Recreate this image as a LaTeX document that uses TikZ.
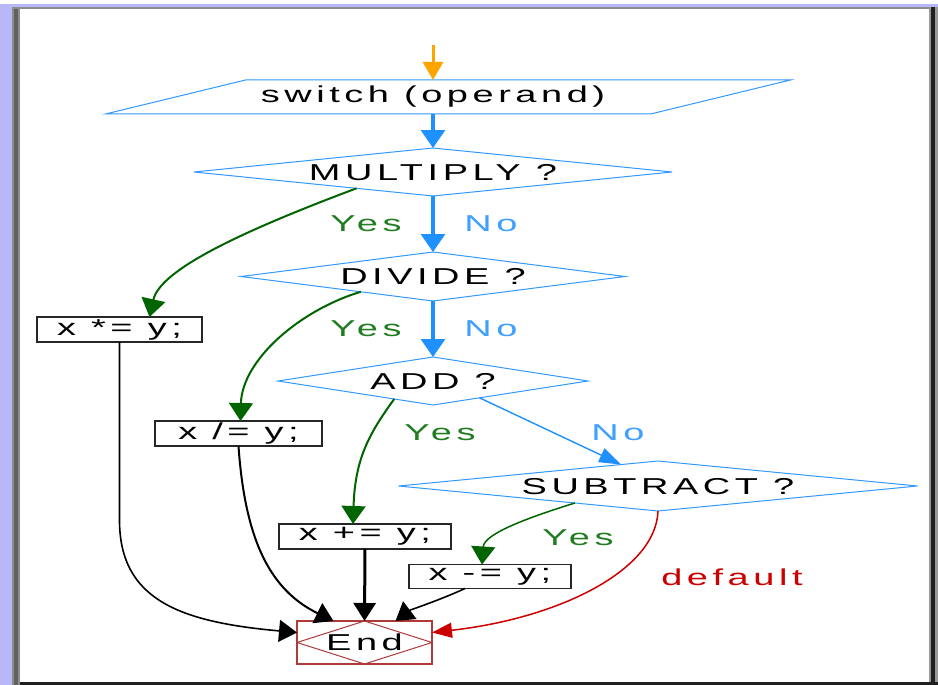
\documentclass[tikz,border=0pt]{standalone}
\usepackage{fontspec}
\usepackage{graphicx}
\setmainfont{Liberation Sans}
\newfontfamily\chartfont{Liberation Sans}[LetterSpace=12]
\usetikzlibrary{shapes.geometric,arrows.meta,calc}

\definecolor{flowblue}{RGB}{30,144,255}
\definecolor{edgeblue}{RGB}{51,153,255}
\definecolor{yesgreen}{RGB}{0,100,0}
\definecolor{yestext}{RGB}{34,125,34}
\definecolor{notext}{RGB}{64,160,255}
\definecolor{defred}{RGB}{204,0,0}
\definecolor{endred}{RGB}{176,58,58}
\definecolor{frameband}{RGB}{184,184,248}
\definecolor{startorange}{RGB}{255,165,0}

% wide, tracked sans text
\newcommand\wtxt[1]{\scalebox{1.65}[1]{\chartfont\fontsize{23}{25}\selectfont #1}}
% text of zero size, centred on the node
\newcommand\ctr[1]{\makebox[0pt]{\smash{\raisebox{-8.2pt}{\wtxt{#1}}}}}

\begin{document}
\begin{tikzpicture}[x=1pt,y=-1pt,
  txt/.style={inner sep=0pt, outer sep=0pt},
  decision/.style={diamond, draw=edgeblue, line width=1pt, inner sep=0pt, outer sep=0pt},
  stmt/.style={rectangle, draw=black!85, line width=1.8pt, inner sep=0pt, outer sep=0pt, fill=white},
  startflow/.style={draw=startorange, line width=3pt, -{Triangle[width=20pt,length=18pt]}},
  mainflow/.style={draw=flowblue, line width=3.2pt, -{Triangle[width=24pt,length=18pt]}},
  sideflow/.style={draw=flowblue, line width=1.4pt, -{Triangle[width=15pt,length=22pt]}},
  yesflow/.style={draw=yesgreen, line width=2pt, -{Triangle[width=24pt,length=18pt]}},
  toend/.style={draw=black, line width=2pt, -{Triangle[width=22pt,length=18pt]}},
  defflow/.style={draw=defred, line width=1.5pt, -{Triangle[width=15pt,length=20pt]}},
  yeslbl/.style={txt, text=yestext},
  nolbl/.style={txt, text=notext},
]
\useasboundingbox (0,0) rectangle (938,685);

% window frame
\fill[white] (0,0) rectangle (938,685);
\fill[frameband] (0,4) rectangle (938,7);
\fill[frameband] (0,4) rectangle (12,685);
\fill[black!45] (12,7) rectangle (20,685);
\fill[black!62] (14,7) rectangle (18,685);
\fill[black!45] (12,7) rectangle (930,9);
\fill[black!40] (929,7) rectangle (938,685);
\fill[black!88] (931,7) rectangle (935,685);
\fill[black!88] (20,682) rectangle (938,685);

% start and switch
\coordinate (start) at (433,45);
\node[txt, minimum width=655, minimum height=34] (sw) at (433,97) {\wtxt{switch (operand)}};
\draw[edgeblue, line width=1pt] ($(sw.north west)+(140,0)$) -- ($(sw.north east)+(30,0)$)
  -- ($(sw.south east)+(-110,0)$) -- (sw.south west) -- cycle;

% decisions
\node[decision, minimum width=478, minimum height=48] (mul) at (433,172) {\ctr{MULTIPLY ?}};
\node[decision, minimum width=384, minimum height=49] (div) at (433,276.5) {\ctr{DIVIDE ?}};
\node[decision, minimum width=310, minimum height=48] (add) at (433,381) {\ctr{ADD ?}};
\node[decision, minimum width=519, minimum height=50] (sub) at (658,486) {\ctr{SUBTRACT ?}};

% statements
\node[stmt, minimum width=165, minimum height=25] (b1) at (119.5,329.5) {\wtxt{x *= y;}};
\node[stmt, minimum width=167, minimum height=25] (b2) at (238.5,433.5) {\wtxt{x /= y;}};
\node[stmt, minimum width=172, minimum height=25] (b3) at (365,536.5) {\wtxt{x += y;}};
\node[stmt, minimum width=162, minimum height=24] (b4) at (490,576.5) {\wtxt{x -= y;}};

% end
\node[rectangle, draw=endred, line width=1.6pt, minimum width=135, minimum height=43,
  inner sep=0pt, outer sep=0pt,
  path picture={\draw[endred, line width=1pt]
    (path picture bounding box.north) -- (path picture bounding box.east)
    -- (path picture bounding box.south) -- (path picture bounding box.west) -- cycle;}]
  (end) at (364.5,642.5) {\wtxt{End}};

% main column
\draw[startflow] (start) -- (sw.north);
\draw[mainflow] (sw.south) -- (mul.north);
\draw[mainflow] (mul.south) -- (div.north);
\draw[mainflow] (div.south) -- (add.north);
\draw[sideflow] ($(add.south)!0.3!(add.east)$) -- ($(sub.north)!0.142!(sub.west)$);

% yes branches
\draw[yesflow] ($(mul.south)!0.32!(mul.west)$) .. controls (240,232) and (160,270) .. ([xshift=30pt]b1.north);
\draw[yesflow] ($(div.south)!0.376!(div.west)$) .. controls (300,310) and (242,360) .. ([xshift=2pt]b2.north);
\draw[yesflow] ($(add.south)!0.25!(add.west)$) .. controls (368,435) and (355,460) .. ([xshift=-12pt]b3.north);
\draw[yesflow, line width=1.5pt] ($(sub.south)!0.32!(sub.west)$) .. controls (520,520) and (484,535) .. ([xshift=-8pt]b4.north);

% default
\draw[defflow] (sub.south) .. controls (656,570) and (560,618) .. ([yshift=10pt]end.east);

% into end
\draw[toend, line width=1.6pt] (b1.south) -- (119.5,520) .. controls (119.5,600) and (180,622) .. ([yshift=10pt]end.west);
\draw[toend] (b2.south) .. controls (245,540) and (270,590) .. ([xshift=-31pt]end.north);
\draw[toend, line width=3pt] (b3.south) -- (end.north);
\draw[toend, line width=1.6pt] ([xshift=-25pt]b4.south) .. controls (440,600) and (410,610) .. ([xshift=31pt]end.north);

% labels
\node[yeslbl] (y1) at (366,224) {\wtxt{Yes}};
\node[nolbl] (n1) at (491,224) {\wtxt{No}};
\node[yeslbl] (y2) at (366,329) {\wtxt{Yes}};
\node[nolbl] (n2) at (491,329) {\wtxt{No}};
\node[yeslbl] (y3) at (440,433) {\wtxt{Yes}};
\node[nolbl] (n3) at (618,433) {\wtxt{No}};
\node[yeslbl] (y4) at (578,538) {\wtxt{Yes}};
\node[txt, text=defred] (dl) at (732,577) {\wtxt{default}};
\end{tikzpicture}
\end{document}
